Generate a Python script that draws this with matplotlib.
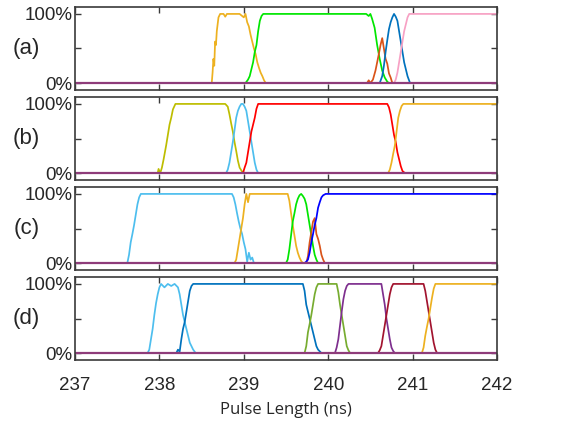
import matplotlib
matplotlib.use("Agg")
import matplotlib.pyplot as plt
from matplotlib.ticker import FixedLocator

# ---------------- data ----------------
panel_labels = ["(a)", "(b)", "(c)", "(d)"]
x_ticks = [237, 238, 239, 240, 241, 242]
x_tick_labels = ["237", "238", "239", "240", "241", "242"]
y_ticks = [0, 0.5, 1.0]
y_tick_labels = ["0%", "", "100%"]
x_label = "Pulse Length (ns)"

# Panel (a)
a_yellow_x = [237, 238.62, 238.63, 238.64, 238.65, 238.66, 238.67, 238.68, 238.70, 238.72, 238.76, 238.78, 238.80,
              238.95, 239.00, 239.02, 239.04, 239.06, 239.08, 239.10, 239.12, 239.14, 239.16, 239.18, 239.20,
              239.22, 239.24, 239.26, 242]
a_yellow_y = [0, 0, 0.15, 0.35, 0.25, 0.6, 0.55, 0.75, 0.95, 1.0, 1.0, 0.96, 1.0,
              1.0, 0.95, 1.0, 0.88, 0.82, 0.7, 0.6, 0.5, 0.42, 0.3, 0.22, 0.15,
              0.1, 0.04, 0, 0]
a_green_x = [237, 239.02, 239.05, 239.07, 239.09, 239.11, 239.13, 239.15, 239.17, 239.19, 239.21, 239.23,
             240.45, 240.48, 240.50, 240.52, 240.55, 240.58, 240.61, 240.64, 240.67, 240.70, 240.72, 242]
a_green_y = [0, 0, 0.05, 0.1, 0.2, 0.3, 0.45, 0.55, 0.75, 0.9, 0.97, 1.0,
             1.0, 0.97, 1.0, 0.93, 0.8, 0.55, 0.35, 0.18, 0.08, 0.02, 0, 0]
a_orange_x = [237, 240.46, 240.48, 240.50, 240.53, 240.56, 240.58, 240.60, 240.62, 240.64, 240.66, 240.68,
              240.70, 240.72, 240.74, 240.76, 242]
a_orange_y = [0, 0, 0.04, 0, 0.05, 0.18, 0.3, 0.42, 0.55, 0.65, 0.5, 0.35,
              0.28, 0.14, 0.08, 0, 0]
a_blue_x = [237, 240.61, 240.64, 240.66, 240.68, 240.70, 240.72, 240.74, 240.76, 240.78, 240.80, 240.82,
            240.84, 240.86, 240.88, 240.90, 240.92, 240.94, 240.97, 242]
a_blue_y = [0, 0, 0.1, 0.25, 0.45, 0.62, 0.78, 0.88, 0.95, 1.0, 0.96, 0.9,
            0.75, 0.6, 0.45, 0.3, 0.2, 0.1, 0, 0]
a_pink_x = [237, 240.78, 240.80, 240.82, 240.84, 240.86, 240.88, 240.90, 240.92, 240.94, 240.96, 242]
a_pink_y = [0, 0, 0.05, 0.15, 0.3, 0.45, 0.6, 0.75, 0.85, 0.95, 1.0, 1.0]

# Panel (b)
b_olive_x = [237, 237.98, 237.99, 238.01, 238.03, 238.05, 238.08, 238.10, 238.12, 238.14, 238.16, 238.19,
             238.78, 238.81, 238.83, 238.85, 238.87, 238.89, 238.91, 238.93, 238.95, 238.98, 239.02, 242]
b_olive_y = [0, 0, 0.06, 0.0, 0.08, 0.2, 0.4, 0.55, 0.7, 0.8, 0.92, 1.0,
             1.0, 0.96, 0.85, 0.72, 0.6, 0.45, 0.32, 0.18, 0.08, 0.02, 0, 0]
b_lblue_x = [237, 238.79, 238.81, 238.83, 238.85, 238.87, 238.89, 238.91, 238.93, 238.95, 238.97, 238.99,
             239.01, 239.03, 239.05, 239.07, 239.09, 239.11, 239.13, 239.15, 239.17, 242]
b_lblue_y = [0, 0, 0.05, 0.15, 0.3, 0.45, 0.62, 0.8, 0.9, 0.96, 1.0, 1.0,
             0.96, 0.9, 0.75, 0.6, 0.45, 0.3, 0.15, 0.05, 0, 0]
b_red_x = [237, 238.99, 239.01, 239.03, 239.05, 239.07, 239.09, 239.11, 239.13, 239.15, 239.17,
           240.70, 240.72, 240.74, 240.76, 240.78, 240.80, 240.82, 240.84, 240.86, 240.88, 240.91, 242]
b_red_y = [0, 0, 0.08, 0.15, 0.3, 0.45, 0.6, 0.7, 0.8, 0.93, 1.0,
           1.0, 0.95, 0.85, 0.7, 0.55, 0.45, 0.3, 0.2, 0.1, 0.03, 0, 0]
b_yellow_x = [237, 240.71, 240.73, 240.75, 240.77, 240.79, 240.81, 240.83, 240.85, 240.87, 240.89, 242]
b_yellow_y = [0, 0, 0.05, 0.15, 0.28, 0.4, 0.6, 0.8, 0.9, 0.97, 1.0, 1.0]

# Panel (c)
c_lblue_x = [237, 237.62, 237.64, 237.66, 237.68, 237.70, 237.72, 237.74, 237.76, 237.78,
             238.86, 238.88, 238.90, 238.92, 238.94, 238.96, 238.98, 239.00, 239.02, 239.04, 239.06,
             239.08, 239.10, 239.12, 242]
c_lblue_y = [0, 0, 0.12, 0.3, 0.42, 0.55, 0.7, 0.85, 0.95, 1.0,
             1.0, 0.95, 0.85, 0.72, 0.6, 0.5, 0.42, 0.3, 0.2, 0.02, 0.15, 0.05, 0.08, 0, 0]
c_yellow_x = [237, 238.89, 238.91, 238.93, 238.95, 238.97, 238.99, 239.01, 239.03, 239.05, 239.07, 239.09,
              239.52, 239.54, 239.56, 239.58, 239.60, 239.62, 239.64, 239.66, 239.68, 239.70, 242]
c_yellow_y = [0, 0, 0.05, 0.2, 0.35, 0.5, 0.65, 0.85, 1.0, 0.88, 1.0, 1.0,
              1.0, 0.9, 0.72, 0.55, 0.4, 0.25, 0.15, 0.08, 0.03, 0, 0]
c_green_x = [237, 239.50, 239.52, 239.54, 239.56, 239.58, 239.60, 239.62, 239.64, 239.66, 239.68, 239.70,
             239.72, 239.74, 239.76, 239.78, 239.80, 239.82, 239.84, 239.86, 239.88, 242]
c_green_y = [0, 0, 0.05, 0.2, 0.4, 0.6, 0.72, 0.85, 0.93, 0.98, 1.0, 0.97,
             0.93, 0.85, 0.7, 0.55, 0.4, 0.25, 0.12, 0.05, 0, 0]
c_orange_x = [237, 239.74, 239.76, 239.78, 239.80, 239.82, 239.84, 239.86, 239.88, 239.90, 239.92,
              239.94, 239.96, 242]
c_orange_y = [0, 0, 0.1, 0.3, 0.45, 0.6, 0.65, 0.42, 0.35, 0.25, 0.12, 0.05, 0, 0]
c_blue_x = [237, 239.72, 239.74, 239.76, 239.78, 239.80, 239.82, 239.84, 239.86, 239.88, 239.90, 239.92,
            239.94, 239.97, 242]
c_blue_y = [0, 0, 0.02, 0.05, 0.15, 0.3, 0.42, 0.55, 0.65, 0.8, 0.88, 0.95, 0.98, 1.0, 1.0]

# Panel (d)
d_lblue_x = [237, 237.86, 237.88, 237.90, 237.92, 237.94, 237.96, 237.98, 238.00, 238.02, 238.06, 238.10,
             238.14, 238.18, 238.22, 238.24, 238.26, 238.28, 238.30, 238.32, 238.34, 238.36, 238.38,
             238.40, 238.43, 242]
d_lblue_y = [0, 0, 0.05, 0.2, 0.35, 0.55, 0.72, 0.85, 0.95, 1.0, 0.95, 1.0,
             0.97, 1.0, 0.95, 0.85, 0.7, 0.55, 0.45, 0.35, 0.25, 0.15, 0.1, 0.05, 0, 0]
d_blue_x = [237, 238.20, 238.22, 238.24, 238.26, 238.28, 238.30, 238.32, 238.34, 238.36, 238.38, 238.40,
            239.70, 239.72, 239.74, 239.76, 239.78, 239.80, 239.82, 239.84, 239.86, 239.88, 239.92, 242]
d_blue_y = [0, 0, 0.05, 0.02, 0.2, 0.35, 0.45, 0.6, 0.75, 0.9, 0.97, 1.0,
            1.0, 0.9, 0.7, 0.6, 0.5, 0.4, 0.3, 0.2, 0.1, 0.05, 0, 0]
d_green_x = [237, 239.72, 239.74, 239.76, 239.78, 239.80, 239.82, 239.84, 239.86, 239.88,
             240.10, 240.12, 240.14, 240.16, 240.18, 240.20, 240.22, 240.24, 240.26, 242]
d_green_y = [0, 0, 0.1, 0.3, 0.42, 0.55, 0.7, 0.85, 0.95, 1.0,
             1.0, 0.88, 0.7, 0.55, 0.4, 0.25, 0.1, 0.04, 0, 0]
d_purple_x = [237, 240.08, 240.10, 240.12, 240.14, 240.16, 240.18, 240.20, 240.22, 240.24,
              240.63, 240.65, 240.67, 240.69, 240.71, 240.73, 240.75, 240.77, 240.79, 242]
d_purple_y = [0, 0, 0.08, 0.2, 0.4, 0.6, 0.78, 0.9, 0.97, 1.0,
              1.0, 0.85, 0.7, 0.5, 0.35, 0.2, 0.08, 0.03, 0, 0]
d_dred_x = [237, 240.59, 240.61, 240.63, 240.65, 240.67, 240.69, 240.71, 240.73, 240.75, 240.77,
            241.13, 241.15, 241.17, 241.19, 241.21, 241.23, 241.25, 241.27, 241.29, 242]
d_dred_y = [0, 0, 0.04, 0.1, 0.25, 0.4, 0.55, 0.7, 0.85, 0.95, 1.0,
            1.0, 0.9, 0.75, 0.6, 0.45, 0.3, 0.15, 0.05, 0, 0]
d_yellow_x = [237, 241.11, 241.13, 241.15, 241.17, 241.19, 241.21, 241.23, 241.25, 241.27, 242]
d_yellow_y = [0, 0, 0.08, 0.25, 0.38, 0.5, 0.65, 0.8, 0.93, 1.0, 1.0]

# other (unpopulated) states, zero everywhere
zero_x = [237, 242]
zero_y = [0, 0]

panels = [
    [(a_yellow_x, a_yellow_y, "#EDB120"), (a_green_x, a_green_y, "#00E600"),
     (a_orange_x, a_orange_y, "#D95319"), (a_blue_x, a_blue_y, "#0072BD"),
     (a_pink_x, a_pink_y, "#F7A1C4")],
    [(b_olive_x, b_olive_y, "#BDBD00"), (b_lblue_x, b_lblue_y, "#4DBEEE"),
     (b_red_x, b_red_y, "#FF0000"), (b_yellow_x, b_yellow_y, "#EDB120")],
    [(c_lblue_x, c_lblue_y, "#4DBEEE"), (c_yellow_x, c_yellow_y, "#EDB120"),
     (c_green_x, c_green_y, "#00E600"), (c_orange_x, c_orange_y, "#D95319"),
     (c_blue_x, c_blue_y, "#0000FF")],
    [(d_lblue_x, d_lblue_y, "#4DBEEE"), (d_blue_x, d_blue_y, "#0072BD"),
     (d_green_x, d_green_y, "#77AC30"), (d_purple_x, d_purple_y, "#7E2F8E"),
     (d_dred_x, d_dred_y, "#A2142F"), (d_yellow_x, d_yellow_y, "#EDB120")],
]

# ---------------- figure ----------------
W, H = 561, 422
fig = plt.figure(figsize=(W / 100, H / 100), dpi=100)
left, right = 75, 497
tops = [7, 97, 187, 277]
ph = 83
tick_font = "Liberation Sans"
spine_c = "#3a3a3a"

for i, (series, lab) in enumerate(zip(panels, panel_labels)):
    top = tops[i]
    ax = fig.add_axes([left / W, 1 - (top + ph) / H, (right - left) / W, ph / H])
    for xs, ys, c in series:
        ax.plot(xs, ys, color=c, lw=1.25)
    ax.plot(zero_x, zero_y, color="#8E3C7A", lw=1.6)
    ax.set_xlim(237, 242)
    ax.set_ylim(-0.1, 1.1)
    ax.xaxis.set_major_locator(FixedLocator(x_ticks))
    ax.yaxis.set_major_locator(FixedLocator(y_ticks))
    ax.set_yticklabels(y_tick_labels, fontsize=13.5, family=tick_font, color="#262626")
    if i == 3:
        ax.set_xticklabels(x_tick_labels, fontsize=13.5, family=tick_font, color="#262626")
        ax.set_xlabel(x_label, fontsize=12, family="Open Sans", color="#262626", labelpad=6)
    else:
        ax.set_xticklabels([])
    ax.tick_params(direction="in", length=4, width=1.0, color=spine_c, top=True, right=True, pad=2)
    ax.tick_params(axis="x", pad=12)
    for s in ax.spines.values():
        s.set_color(spine_c)
        s.set_linewidth(1.2)
    ax.text(-0.115, 0.5, lab, transform=ax.transAxes, ha="center", va="center",
            fontsize=16, family=tick_font, color="#262626")

fig.savefig("out.png", dpi=100)
